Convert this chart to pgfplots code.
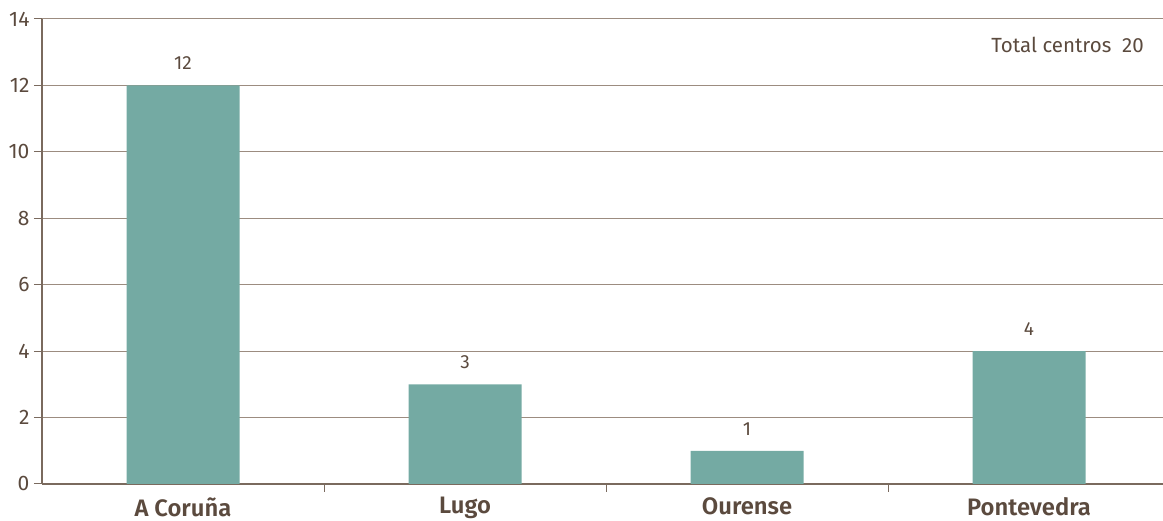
\documentclass[border=0pt]{standalone}
\usepackage{pgfplots}
\pgfplotsset{compat=1.18}
\usepackage{fontspec}
\setmainfont{Fira Sans}[BoldFont={Fira Sans SemiBold}]
\definecolor{txt}{HTML}{5B4A3E}
\definecolor{barc}{HTML}{74AAA3}
\definecolor{gridc}{HTML}{9C8C80}
\definecolor{axc}{HTML}{7A6A5E}
\begin{document}
\begin{tikzpicture}
\begin{axis}[
  name=ax,
  scale only axis,
  width=1121pt, height=465pt,
  xmin=-0.5, xmax=3.475,
  ymin=0, ymax=14,
  ytick={0,2,...,14},
  xtick={0.5,1.5,2.5},
  xticklabels={},
  x tick style={draw=axc, line width=1pt},
  extra x ticks={0,1,2,3},
  extra x tick labels={A Coruña,Lugo,Ourense,Pontevedra},
  extra x tick style={major tick length=0pt, grid=none,
    tick label style={font=\fontsize{23.8}{28}\selectfont\bfseries, text=txt, yshift=-10pt}},
  y tick label style={font=\fontsize{21}{25}\selectfont, text=txt, xshift=-1pt},
  axis lines=left,
  axis line style={draw=axc, line width=1.2pt, -},
  ymajorgrids,
  grid style={draw=gridc, line width=1pt},
  y tick style={draw=axc, line width=1pt},
  tick align=outside,
  major tick length=8pt,
  /pgf/number format/assume math mode=true,
  clip=false,
]
\addplot[ybar, bar width=113pt, fill=barc, draw=none,
  nodes near coords, every node near coord/.style={font=\fontsize{19}{23}\selectfont, text=txt, yshift=12pt}]
  coordinates {(0,12) (1,3) (2,1) (3,4)};
\node[anchor=east, font=\fontsize{20.5}{24}\selectfont, text=txt] at (rel axis cs:0.986,0.944) {Total centros\ \ 20};
\end{axis}
\pgfresetboundingbox
\path ([xshift=-42pt,yshift=-37pt]ax.south west) rectangle ([yshift=19pt]ax.north east);
\end{tikzpicture}
\end{document}
